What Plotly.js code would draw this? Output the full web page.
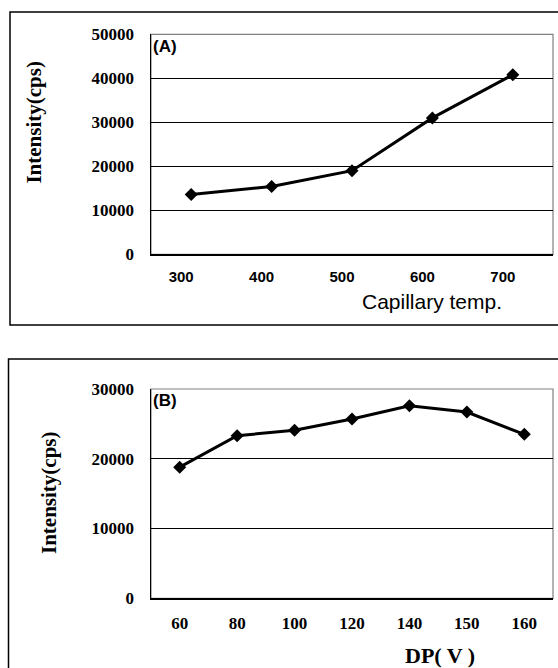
<!DOCTYPE html>
<html>
<head>
<meta charset="utf-8">
<script src="https://cdn.plot.ly/plotly-3.0.1.min.js"></script>
<style>html,body{margin:0;padding:0;background:#fff;}#chart{width:558px;height:668px;}</style>
</head>
<body>
<div id="chart"></div>
<script>
// Panel A: capillary temperature
const tempCategories = ['300', '400', '500', '600', '700'];
const tempIntensity = [13600, 15400, 19000, 31000, 40800];
const tempTicks = [0, 10000, 20000, 30000, 40000, 50000];

// Panel B: declustering potential
const dpCategories = ['60', '80', '100', '120', '140', '150', '160'];
const dpIntensity = [18800, 23300, 24100, 25700, 27600, 26700, 23500];
const dpTicks = [0, 10000, 20000, 30000];

const serifBold = {family: 'Liberation Serif, Times New Roman, serif', size: 17, color: '#000', weight: 'bold'};
const sans = {family: 'Liberation Sans, Arial, sans-serif', size: 15, color: '#000', weight: 'bold'};

const lineStyle = {color: '#000', width: 3};
const markerStyle = {symbol: 'diamond', size: 10, color: '#000'};

const traces = [
  {x: tempCategories, y: tempIntensity, type: 'scatter', mode: 'lines+markers',
   line: lineStyle, marker: markerStyle, xaxis: 'x', yaxis: 'y', showlegend: false},
  {x: dpCategories, y: dpIntensity, type: 'scatter', mode: 'lines+markers',
   line: lineStyle, marker: markerStyle, xaxis: 'x2', yaxis: 'y2', showlegend: false}
];

const xDom = [151/558, 553/558];
const yaxisCommon = {
  showgrid: true, gridcolor: '#000', gridwidth: 1, zeroline: false,
  showline: true, linecolor: '#000', linewidth: 1.5, ticks: '',
  tickfont: serifBold, ticklabelstandoff: 12, fixedrange: true
};
const xaxisCommon = {
  type: 'category', showgrid: false, zeroline: false,
  showline: true, linecolor: '#000', linewidth: 1.5, ticks: '', fixedrange: true
};

const layout = {
  width: 558, height: 668,
  margin: {l: 0, r: 0, t: 0, b: 0},
  paper_bgcolor: '#fff', plot_bgcolor: '#fff',
  xaxis: Object.assign({}, xaxisCommon, {
    domain: xDom, anchor: 'y', range: [-0.5, tempCategories.length - 0.5],
    tickfont: sans, ticklabelshift: -10, ticklabelstandoff: 8
  }),
  yaxis: Object.assign({}, yaxisCommon, {
    domain: [(668-254.3)/668, (668-34.3)/668], anchor: 'x',
    range: [0, 50000], tickvals: tempTicks, ticktext: tempTicks.map(String)
  }),
  xaxis2: Object.assign({}, xaxisCommon, {
    domain: xDom, anchor: 'y2', range: [-0.5, dpCategories.length - 0.5],
    tickfont: serifBold, ticklabelstandoff: 9
  }),
  yaxis2: Object.assign({}, yaxisCommon, {
    domain: [(668-598.3)/668, (668-389)/668], anchor: 'x2',
    range: [0, 30000], tickvals: dpTicks, ticktext: dpTicks.map(String)
  }),
  shapes: [
    {type: 'rect', xref: 'x domain', yref: 'y domain', x0: 0, x1: 1, y0: 0, y1: 1,
     line: {color: '#808080', width: 1.2}, layer: 'below'},
    {type: 'rect', xref: 'x2 domain', yref: 'y2 domain', x0: 0, x1: 1, y0: 0, y1: 1,
     line: {color: '#808080', width: 1.2}, layer: 'below'},
    {type: 'rect', xref: 'paper', yref: 'paper', x0: 10/558, x1: 1.05,
     y0: (668-325)/668, y1: (668-12)/668, line: {color: '#000', width: 1.5}},
    {type: 'rect', xref: 'paper', yref: 'paper', x0: 8.5/558, x1: 1.05,
     y0: -0.05, y1: (668-359)/668, line: {color: '#000', width: 1.5}}
  ],
  annotations: [
    {text: '(A)', xref: 'paper', yref: 'paper', x: 151/558, y: (668-46.7)/668,
     xanchor: 'left', yanchor: 'middle', showarrow: false,
     font: {family: 'Liberation Sans, Arial, sans-serif', size: 17, color: '#000', weight: 'bold'}},
    {text: 'Capillary temp.', xref: 'paper', yref: 'paper', x: 432/558, y: (668-301)/668,
     xanchor: 'center', yanchor: 'middle', showarrow: false,
     font: {family: 'Liberation Sans, Arial, sans-serif', size: 21, color: '#000'}},
    {text: 'Intensity(cps)', xref: 'paper', yref: 'paper', x: 34/558, y: (668-122.6)/668,
     xanchor: 'center', yanchor: 'middle', textangle: -90, showarrow: false,
     font: {family: 'Liberation Serif, Times New Roman, serif', size: 21, color: '#000', weight: 'bold'}},
    {text: '(B)', xref: 'paper', yref: 'paper', x: 151/558, y: (668-400)/668,
     xanchor: 'left', yanchor: 'middle', showarrow: false,
     font: {family: 'Liberation Sans, Arial, sans-serif', size: 17, color: '#000', weight: 'bold'}},
    {text: 'DP( V )', xref: 'paper', yref: 'paper', x: 440/558, y: (668-655)/668,
     xanchor: 'center', yanchor: 'middle', showarrow: false,
     font: {family: 'Liberation Serif, Times New Roman, serif', size: 22, color: '#000', weight: 'bold'}},
    {text: 'Intensity(cps)', xref: 'paper', yref: 'paper', x: 48.5/558, y: (668-492.5)/668,
     xanchor: 'center', yanchor: 'middle', textangle: -90, showarrow: false,
     font: {family: 'Liberation Serif, Times New Roman, serif', size: 21, color: '#000', weight: 'bold'}}
  ]
};

Plotly.newPlot('chart', traces, layout, {staticPlot: true, displayModeBar: false});
</script>
</body>
</html>
